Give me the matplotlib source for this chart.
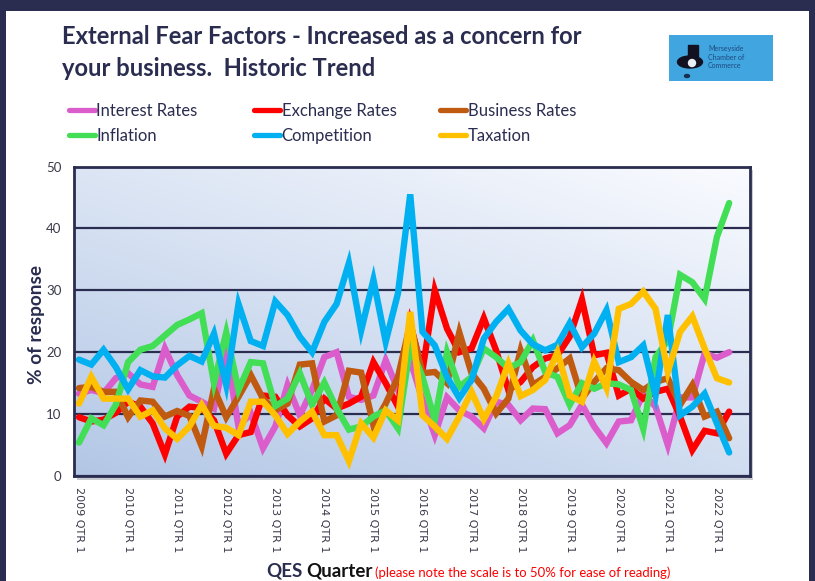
import numpy as np
import matplotlib
matplotlib.use("Agg")
import matplotlib.pyplot as plt
from matplotlib.patches import Rectangle, Ellipse

W, H = 815, 581
NAVY = "#2A2D4F"

interest = [13.3,13.9,13.4,15.8,16.6,14.8,14.4,20.6,16.3,13,12,10.9,20.3,8,10.1,4.5,8,14.7,9.8,13.9,19.2,20,12.8,12.3,13,18.7,13.9,18.7,12.3,6.6,12.7,10.6,9.6,7.7,12,11.5,9,10.9,10.8,6.9,8.2,11.5,8,5.3,8.8,9,13.3,11.2,5,12.7,12.7,19.8,19.1,20]
exchange = [9.5,8.8,9.1,10.2,12,11.2,8.5,3.5,9.6,11.2,11,9,3.6,6.6,7.1,13,12.8,9.8,8,9.3,12.5,10.9,11.7,12.8,18.4,15,11.2,24.6,17,30,23.8,20,20.6,25.5,20.3,13.9,15.2,17.6,19,19.5,22.5,28.5,19.5,19.9,13,14.1,12.5,13.6,14.1,9.6,4.2,7.3,6.9,10.4]
business = [14.2,14.4,13.6,13.6,9.5,12.2,12,9.6,10.5,9.7,4.8,14.1,9.5,12.8,16.3,12.5,10.6,11.7,18,18.2,8.8,9.8,17,16.7,8.2,11.7,16,24.6,16.6,16.8,15,23.2,16.6,14.1,10.1,12.5,20.3,14.7,16,17.4,19,12.5,15.2,17.4,17.1,15.2,13.9,15.2,15.8,11.5,14.7,9.6,10.4,6.1]
inflation = [5.4,9.3,8.2,11.5,18.4,20.4,21,22.7,24.4,25.3,26.3,15,23.2,13.9,18.4,18.2,11.3,12.5,16.6,11.5,15.1,10.9,7.5,8,9.6,10.6,7.7,20.9,16,9,20,14.4,16,20.6,19.2,17.4,18.4,21.9,16.8,16,11.5,15,14.1,15,14.8,13.9,7.6,19.2,21.9,32.5,31.3,28.6,38.6,44.1]
competition = [18.8,18,20.4,17.6,14,17.1,16.1,15.9,17.9,19.4,18.5,23,14.7,27.8,21.8,21,28.2,26,22.5,20,24.9,27.8,34.4,23.5,31.7,21.7,29.5,45.5,23.3,21.1,16,12.6,15.5,22.2,24.9,27,23.5,21.3,20.3,21.2,24.7,20.8,23,26.8,18.4,19.2,21.1,13,26,9.8,11.2,13.3,8.5,3.8]
taxation = [11.7,16,12.5,12.5,12.5,9.6,10.6,7.7,6,8,11.5,8.1,7.8,6.6,12,12,9.8,6.8,8.8,10.4,6.6,6.6,2.4,8.5,6.2,10.6,9,26.5,9.8,8,6,9.6,13.6,9.2,12.8,18.2,12.9,13.9,15.5,20,13,12,18.5,14.2,27,27.8,29.8,27,16.8,23.3,25.8,20.6,15.8,15.1]
series = [("Interest Rates", interest, "#DB5CCB"), ("Exchange Rates", exchange, "#FF0000"),
          ("Business Rates", business, "#C05A11"), ("Inflation", inflation, "#42DE55"),
          ("Competition", competition, "#00B0F0"), ("Taxation", taxation, "#FFC000")]
positions = np.arange(54)
tick_positions = np.arange(0, 54, 4)
tick_labels = [f"{y} QTR 1" for y in range(2009, 2023)]

plt.rcParams["font.family"] = ["Lato", "DejaVu Sans"]
fig = plt.figure(figsize=(W / 100, H / 100), dpi=100, facecolor=NAVY)

def box(x0, y0, x1, y1):
    return [x0 / W, 1 - y1 / H, (x1 - x0) / W, (y1 - y0) / H]

page = fig.add_axes(box(6, 11, 809, 581), zorder=0)
page.set_axis_off()
page.add_patch(Rectangle((0, 0), 1, 1, transform=page.transAxes, facecolor="white", edgecolor="none"))

shadow = fig.add_axes(box(77, 170, 753, 480), zorder=1)
shadow.set_axis_off()
shadow.add_patch(Rectangle((0, 0), 1, 1, transform=shadow.transAxes, facecolor="#C9CBD2", edgecolor="none"))

ax = fig.add_axes(box(74, 166.5, 750, 476), zorder=2)

gx, gy = np.meshgrid(np.linspace(0, 1, 200), np.linspace(0, 1, 200))
t = (gx * 0.42 + gy * 0.58)[..., None]
low, high = np.array([0.70, 0.78, 0.90]), np.array([0.98, 0.985, 1.0])
ax.imshow(low + (high - low) * t, extent=(0, 1, 0, 1), transform=ax.transAxes,
          origin="lower", aspect="auto", zorder=0)
ax.set_xlim(-0.41, 54.7)
ax.set_ylim(0, 50)

ax.set_yticks(range(0, 51, 10))
ax.grid(axis="y", color=NAVY, lw=1.6, zorder=1)
ax.set_axisbelow(False)
for name, vals, col in series:
    ax.plot(positions, vals, color=col, lw=4.6, label=name, zorder=3,
            solid_joinstyle="miter", solid_capstyle="round", clip_on=False)
for s in ax.spines.values():
    s.set_color(NAVY)
    s.set_linewidth(2)
    s.set_zorder(4)

ax.set_xticks(tick_positions, tick_labels, rotation=270, fontfamily="DejaVu Sans",
              fontsize=8, color="#3A3A4A")
ax.tick_params(axis="x", length=0, pad=8)
ax.tick_params(axis="y", length=0, pad=9, labelsize=9.5, labelcolor="#3A3A4A")
ax.set_ylabel("% of response", fontsize=13.7, fontweight="bold", color=NAVY, labelpad=0.5, y=0.489)

fig.text(62 / W, 1 - 36.5 / H, "External Fear Factors - Increased as a concern for", fontsize=17.1,
         fontweight="bold", color=NAVY, va="center", ha="left")
fig.text(62 / W, 1 - 69 / H, "your business.  Historic Trend", fontsize=17.1,
         fontweight="bold", color=NAVY, va="center", ha="left")

handles = ax.get_lines()
for col_i, x_px in enumerate([69, 254, 440]):
    leg = fig.legend([handles[col_i], handles[col_i + 3]],
                     [series[col_i][0], series[col_i + 3][0]],
                     loc="upper left", bbox_to_anchor=(x_px / W, 1 - 103 / H), frameon=False,
                     fontsize=12, labelcolor=NAVY, handlelength=1.55, handletextpad=0.1,
                     labelspacing=0.54, borderpad=0, borderaxespad=0)
    for hl in leg.get_lines():
        hl.set_linewidth(3.8)
    leg.set_zorder(5)

fig.text(266 / W, 1 - 571 / H, "QES", fontsize=13.5, fontweight="bold", color=NAVY, va="center")
fig.text(306 / W, 1 - 571 / H, "Quarter", fontsize=13.5, fontweight="bold", color="#111111", va="center")
fig.text(375 / W, 1 - 573 / H, "(please note the scale is to 50% for ease of reading)", fontsize=9.45,
         color="#FF0000", va="center")

logo = fig.add_axes(box(669, 35, 773, 81), zorder=3)
logo.set_xlim(669, 773)
logo.set_ylim(81, 35)
logo.set_facecolor("#41A5DF")
logo.set_xticks([])
logo.set_yticks([])
for s in logo.spines.values():
    s.set_visible(False)
logo.add_patch(Rectangle((688, 45), 10, 12, color="#111122"))
logo.add_patch(Ellipse((690, 62), 25, 12, color="#111122"))
logo.add_patch(Ellipse((692, 63), 7, 7, color="#E8EEF2"))
logo.add_patch(Ellipse((687, 76), 5, 3, color="#18304F"))
for y, txt in zip([48, 57, 66], ["Merseyside", "Chamber of", "Commerce"]):
    logo.text(708, y, txt, fontsize=5, color="#1E4A80", va="center", ha="left")

fig.savefig("out.png", dpi=100, facecolor=NAVY)
